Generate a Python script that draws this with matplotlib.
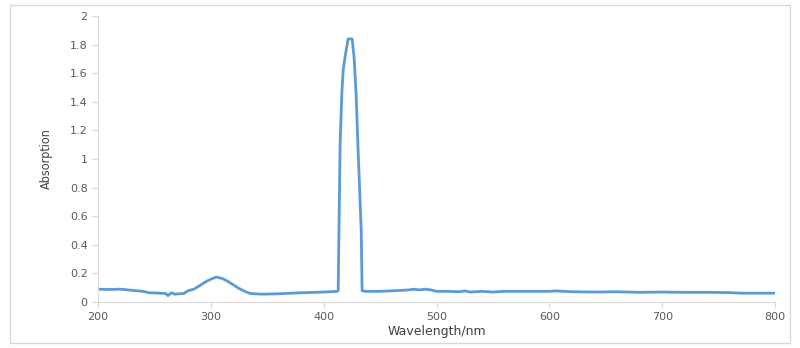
import matplotlib.pyplot as plt
from matplotlib.patches import Rectangle

# spectrum (nm, absorption)
wavelength = [200, 210, 220, 230, 240, 245, 255, 260, 262, 265, 268, 272, 276, 280, 285,
              290, 295, 300, 305, 310, 315, 320, 325, 330, 335, 345, 360, 380, 400, 412,
              412.8, 414.5, 416, 417.2, 419, 421.6, 425.2, 427, 428.7, 430.5, 432, 433.2, 434, 436,
              450, 465, 475, 480, 485, 490, 495, 500, 510, 520, 525, 530, 540, 550, 560, 580,
              600, 605, 620, 640, 660, 680, 700, 720, 740, 760, 770, 780, 800]
absorption = [0.09, 0.088, 0.09, 0.082, 0.075, 0.065, 0.062, 0.06, 0.045, 0.065, 0.055, 0.058, 0.06, 0.08, 0.09,
              0.115, 0.14, 0.16, 0.175, 0.165, 0.145, 0.12, 0.095, 0.075, 0.06, 0.055, 0.058, 0.065, 0.07, 0.075,
              0.08, 1.1, 1.45, 1.62, 1.72, 1.84, 1.84, 1.7, 1.45, 1.05, 0.75, 0.5, 0.08, 0.075,
              0.075, 0.08, 0.085, 0.09, 0.085, 0.09, 0.085, 0.075, 0.075, 0.072, 0.078, 0.07, 0.075, 0.07, 0.075, 0.075,
              0.075, 0.078, 0.072, 0.07, 0.072, 0.068, 0.07, 0.068, 0.068, 0.066, 0.062, 0.062, 0.062]

xticks = [200, 300, 400, 500, 600, 700, 800]
yticks = [0, 0.2, 0.4, 0.6, 0.8, 1, 1.2, 1.4, 1.6, 1.8, 2]
ytick_labels = ['0', '0.2', '0.4', '0.6', '0.8', '1', '1.2', '1.4', '1.6', '1.8', '2']

fig = plt.figure(figsize=(8, 3.48), dpi=100)
fig.patches.append(Rectangle((0.012, 0.015), 0.976, 0.972, transform=fig.transFigure,
                             fill=False, edgecolor='#d9d9d9', linewidth=1))
ax = fig.add_axes([0.1225, 0.132, 0.8465, 0.822])

ax.plot(wavelength, absorption, color='#5b9bd5', linewidth=2)

ax.set_xlim(200, 800)
ax.set_ylim(0, 2)
ax.set_xticks(xticks)
ax.set_yticks(yticks)
ax.set_yticklabels(ytick_labels)

for side in ['top', 'right']:
    ax.spines[side].set_visible(False)
for side in ['left', 'bottom']:
    ax.spines[side].set_color('#d9d9d9')
ax.tick_params(axis='both', colors='#d9d9d9', labelcolor='#595959', labelsize=8, length=4)

ax.set_xlabel('Wavelength/nm', fontsize=9, color='#404040', labelpad=2)
ax.set_ylabel('Absorption', fontsize=9, color='#404040', fontstretch='condensed', labelpad=12)

plt.savefig('out.png', dpi=100)
